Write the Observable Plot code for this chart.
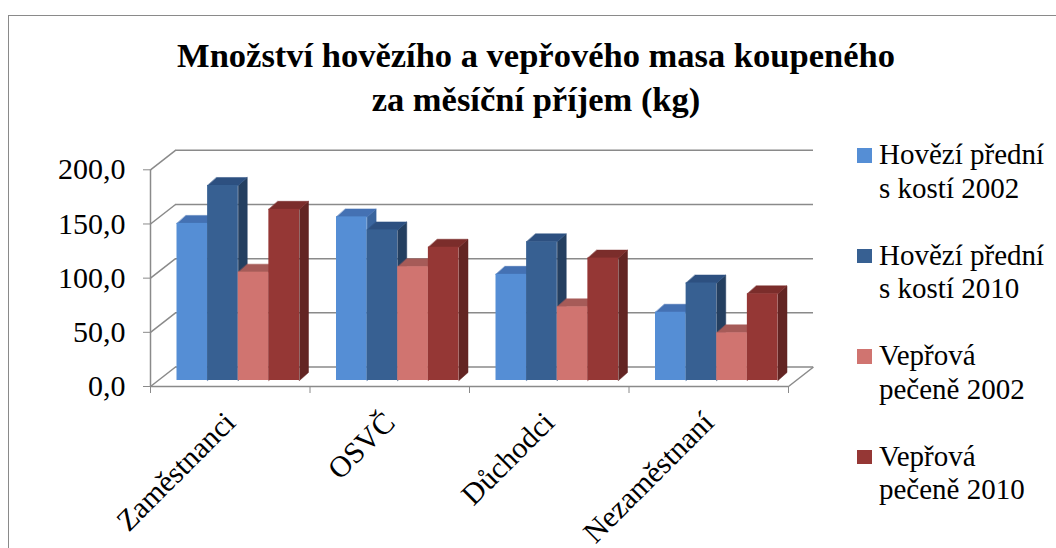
<!DOCTYPE html>
<html>
<head>
<meta charset="utf-8">
<script src="https://cdn.jsdelivr.net/npm/d3@7"></script>
<script src="https://cdn.jsdelivr.net/npm/@observablehq/plot@0.6"></script>
<style>
  html, body { margin: 0; padding: 0; background: #fff; }
  #wrap { position: relative; width: 1056px; height: 548px; overflow: hidden;
          font-family: "Liberation Serif", "Times New Roman", serif; color: #000; }
  #frame { position: absolute; left: 8px; top: 15px; width: 1200px; height: 800px;
           border: 1.5px solid #8a8a8a; box-sizing: border-box; }
  #chart { position: absolute; left: 0; top: 0; }
  #title { position: absolute; left: 0; top: 33px; width: 1072px; text-align: center;
           font-weight: bold; font-size: 34.5px; line-height: 44px; white-space: nowrap; }
  .sw { position: absolute; width: 14.5px; height: 14.5px; }
  .lt { position: absolute; width: 174px; font-size: 29px; line-height: 33.5px; }
</style>
</head>
<body>
<div id="wrap">
  <div id="frame"></div>
  <div id="chart"></div>
  <div id="title"></div>
  <div id="legend"></div>
</div>
<script>
// ---- data ----
const titleLines = ["Množství hovězího a vepřového masa koupeného", "za měsíční příjem (kg)"];
const categories = ["Zaměstnanci", "OSVČ", "Důchodci", "Nezaměstnaní"];
const seriesNames = ["Hovězí přední s kostí 2002", "Hovězí přední s kostí 2010", "Vepřová pečeně 2002", "Vepřová pečeně 2010"];
const hovezi2002 = [145, 151, 98, 63];
const hovezi2010 = [180, 139, 128, 90];
const veprova2002 = [100, 105, 68, 44];
const veprova2010 = [158, 123, 113, 80];
const yTicks = [0, 50, 100, 150, 200];

// ---- styles ----
const frontColors = ["#558ed5", "#376092", "#d07470", "#953735"];
const topColors   = ["#4471b3", "#2d5080", "#a65b58", "#7b2d2b"];
const sideColors  = ["#3a659e", "#243f60", "#8e4946", "#632523"];
const gridColor = "#8a8a8a";

const seriesValues = [hovezi2002, hovezi2010, veprova2002, veprova2010];
const fmt = d => d.toFixed(1).replace(".", ",");

// ---- layout ----
const W = 1056, H = 548;
const mL = 150, mR = 268, mT = 169.3, mB = 162;
const pxX = (W - mL - mR) / categories.length;   // px per category unit
const pxY = (H - mT - mB) / 200;                   // px per kg
const wall = {dx: 25, dy: -19.5};                  // back wall offset (px)
const barShift = {dx: 8, dy: -6};                  // bar plane offset (px)
const depth = {x: 9 / pxX, y: 8 / pxY};            // bar depth in data units
const groupW = 0.768, barW = groupW / seriesNames.length;

const rows = [];
categories.forEach((c, i) => {
  seriesValues.forEach((vals, k) => {
    const x1 = i + 0.5 - groupW / 2 + k * barW;
    rows.push({c, i, k, v: vals[i], x1, x2: x1 + barW});
  });
});

const topPts = [], sidePts = [];
rows.forEach((r, id) => {
  const {x1, x2, v, k} = r;
  [[x1, v], [x2, v], [x2 + depth.x, v + depth.y], [x1 + depth.x, v + depth.y]]
    .forEach(([x, y]) => topPts.push({id, k, x, y}));
  [[x2, 0], [x2 + depth.x, depth.y], [x2 + depth.x, v + depth.y], [x2, v]]
    .forEach(([x, y]) => sidePts.push({id, k, x, y}));
});

const marks = [];
// back wall gridlines
marks.push(Plot.ruleY(yTicks, {x1: 0, x2: categories.length, dx: wall.dx, dy: wall.dy, stroke: gridColor, strokeWidth: 1.5}));
// left wall diagonals
marks.push(Plot.link(yTicks, {x1: 0, y1: d => d, x2: wall.dx / pxX, y2: d => d - wall.dy / pxY, stroke: gridColor, strokeWidth: 1.5}));
// floor right edge
marks.push(Plot.link([0], {x1: categories.length, y1: 0, x2: categories.length + wall.dx / pxX, y2: -wall.dy / pxY, stroke: gridColor, strokeWidth: 1.5}));
// front axes
marks.push(Plot.ruleX([0], {y1: 0, y2: 200, stroke: gridColor, strokeWidth: 1.5}));
marks.push(Plot.ruleY([0], {x1: 0, x2: categories.length, stroke: gridColor, strokeWidth: 1.5}));
marks.push(Plot.axisY({ticks: yTicks, tickSize: 7, tickPadding: 18, tickFormat: fmt, fontSize: 30, stroke: gridColor, fill: "#000", label: null}));
marks.push(Plot.axisX({ticks: d3.range(categories.length + 1), tickSize: 7, tickFormat: () => "", stroke: gridColor, label: null}));

// bars: sides, tops, fronts
seriesNames.forEach((s, k) => {
  marks.push(Plot.line(sidePts.filter(p => p.k === k), {x: "x", y: "y", z: "id", fill: sideColors[k], stroke: sideColors[k], strokeWidth: 0.5, curve: "linear-closed", dx: barShift.dx, dy: barShift.dy}));
});
seriesNames.forEach((s, k) => {
  marks.push(Plot.line(topPts.filter(p => p.k === k), {x: "x", y: "y", z: "id", fill: topColors[k], stroke: topColors[k], strokeWidth: 0.5, curve: "linear-closed", dx: barShift.dx, dy: barShift.dy}));
});
seriesNames.forEach((s, k) => {
  marks.push(Plot.rect(rows.filter(r => r.k === k), {x1: "x1", x2: "x2", y1: 0, y2: "v", fill: frontColors[k], dx: barShift.dx, dy: barShift.dy}));
});

// category labels
marks.push(Plot.text(categories, {x: (d, i) => i + 0.5, y: 0, text: d => d, rotate: -45, textAnchor: "end", fontSize: 30, dx: 0, dy: 31, fill: "#000"}));

const svg = Plot.plot({
  width: W, height: H,
  marginLeft: mL, marginRight: mR, marginTop: mT, marginBottom: mB,
  x: {domain: [0, categories.length], axis: null},
  y: {domain: [0, 200], axis: null},
  style: {fontFamily: '"Liberation Serif", "Times New Roman", serif', fontSize: "28px", background: "transparent", overflow: "visible", color: "#000"},
  marks
});
document.getElementById("chart").appendChild(svg);

// title
document.getElementById("title").innerHTML = titleLines.join("<br>");

// legend
const legend = document.getElementById("legend");
seriesNames.forEach((name, k) => {
  const base = 165 + 100.5 * k;
  const sw = document.createElement("div");
  sw.className = "sw";
  sw.style.left = "857px";
  sw.style.top = (base - 17) + "px";
  sw.style.background = frontColors[k];
  legend.appendChild(sw);
  const t = document.createElement("div");
  t.className = "lt";
  t.style.left = "879px";
  t.style.top = (base - 27) + "px";
  t.textContent = name;
  legend.appendChild(t);
});
</script>
</body>
</html>
